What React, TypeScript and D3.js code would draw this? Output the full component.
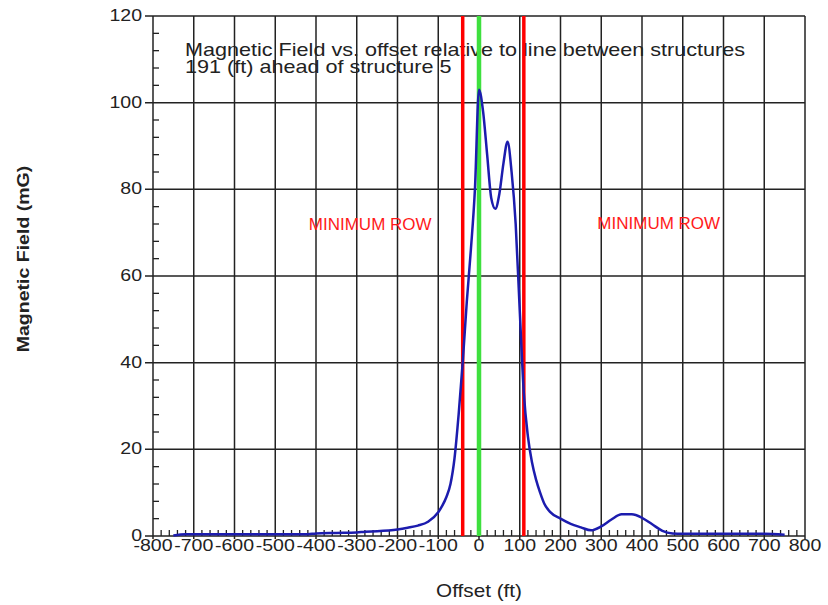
import React from 'react';
import * as d3 from 'd3';

// offset (ft) and field (mG)
const offsets = [-750, -720, -700, -600, -500, -420, -400, -350, -300, -280, -250, -200, -175, -150, -125, -100, -90, -80, -70, -60, -50, -40, -30, -20, -10, 0, 10, 20, 30, 40, 50, 60, 70, 80, 90, 100, 110, 120, 130, 140, 150, 160, 175, 200, 225, 250, 275, 300, 325, 350, 375, 400, 425, 450, 475, 500, 600, 700, 750];
const field = [0.1, 0.4, 0.4, 0.4, 0.4, 0.4, 0.6, 0.7, 0.8, 1.0, 1.1, 1.5, 1.9, 2.4, 3.3, 5.5, 7, 9, 12, 18, 28, 40, 54, 66, 80, 103, 98, 88, 78, 75.5, 79, 86, 91, 84, 72, 52, 33, 23, 17, 13, 10, 7.5, 5.5, 4, 2.8, 2, 1.3, 2.2, 3.8, 5, 5, 4.2, 2.7, 1.2, 0.6, 0.5, 0.5, 0.5, 0.3];

const xTicks = [-800, -700, -600, -500, -400, -300, -200, -100, 0, 100, 200, 300, 400, 500, 600, 700, 800];
const yTicks = [0, 20, 40, 60, 80, 100, 120];
const rowEdges = [-40, 110];
const centerLine = [0];
const rowLabels = ['MINIMUM ROW', 'MINIMUM ROW'];
const rowLabelX = [-267, 441];
const rowLabelY = [70.6, 70.8];
const titleLines = ['Magnetic Field vs. offset relative to line between structures', '191 (ft) ahead of structure 5'];

const W = 828, H = 605;
const SX = 1.15; // text in the picture is a bit wide
const FONT = '"Liberation Sans", Arial, sans-serif';

const x = d3.scaleLinear().domain([-800, 800]).range([153, 805]);
const y = d3.scaleLinear().domain([0, 120]).range([536, 16]);

const SText = ({ px, py, size = 17, anchor = 'start', fill = '#222', weight = 'normal', rot = 0, sx = SX, children }: any) => (
  <text
    transform={`translate(${px},${py}) rotate(${rot}) scale(${sx},1)`}
    fontFamily={FONT}
    fontSize={size}
    fontWeight={weight}
    fill={fill}
    textAnchor={anchor}
  >
    {children}
  </text>
);

export default function App() {
  const pts: [number, number][] = offsets.map((o, i) => [o, field[i]]);
  const line = d3.line<[number, number]>()
    .x(d => x(d[0]))
    .y(d => y(d[1]))
    .curve(d3.curveMonotoneX);

  const minorX = d3.range(-800, 801, 20).filter(v => v % 100 !== 0);
  const minorY = d3.range(0, 121, 4).filter(v => v % 20 !== 0);

  return (
    <svg width={W} height={H} style={{ position: 'absolute', left: 0, top: 0, background: '#fff' }}>
      {/* grid */}
      {xTicks.map(t => (
        <line key={'gx' + t} x1={x(t)} x2={x(t)} y1={y(120)} y2={y(0) + 3} stroke="#222" strokeWidth={1.5} />
      ))}
      {yTicks.map(t => (
        <line key={'gy' + t} x1={x(-800) - 8} x2={x(800)} y1={y(t)} y2={y(t)} stroke="#222" strokeWidth={1.5} />
      ))}
      {minorX.map(t => (
        <line key={'mx' + t} x1={x(t)} x2={x(t)} y1={y(0)} y2={y(0) - 6} stroke="#222" strokeWidth={1.3} />
      ))}
      {minorY.map(t => (
        <line key={'my' + t} x1={x(-800)} x2={x(-800) + 6} y1={y(t)} y2={y(t)} stroke="#222" strokeWidth={1.3} />
      ))}

      {/* tick labels */}
      {xTicks.map(t => (
        <SText key={'lx' + t} px={x(t)} py={551} anchor="middle">{t}</SText>
      ))}
      {yTicks.map(t => (
        <SText key={'ly' + t} px={x(-800) - 11} py={y(t) + 5} anchor="end">{t}</SText>
      ))}

      {/* title */}
      {titleLines.map((s, i) => (
        <SText key={'t' + i} px={185} py={56 + i * 17} size={18} sx={1.2}>{s}</SText>
      ))}

      {/* row limits and centre line */}
      {rowEdges.map(v => (
        <line key={'r' + v} x1={x(v)} x2={x(v)} y1={y(120)} y2={y(0)} stroke="#ff0000" strokeWidth={3.5} />
      ))}
      {centerLine.map(v => (
        <line key={'c' + v} x1={x(v)} x2={x(v)} y1={y(120)} y2={y(0)} stroke="#3ee03e" strokeWidth={4.5} />
      ))}

      {rowLabels.map((s, i) => (
        <SText key={'rl' + i} px={x(rowLabelX[i])} py={y(rowLabelY[i])} anchor="middle" fill="#ff1a1a" size={17} sx={1.0}>{s}</SText>
      ))}

      {/* curve */}
      <path d={line(pts) || ''} fill="none" stroke="#1c1cae" strokeWidth={2.5} strokeLinejoin="round" />

      {/* axis titles */}
      <SText px={29} py={259} rot={-90} anchor="middle" weight="bold" size={17}>Magnetic Field (mG)</SText>
      <SText px={479} py={597} anchor="middle" size={18}>Offset (ft)</SText>
    </svg>
  );
}
